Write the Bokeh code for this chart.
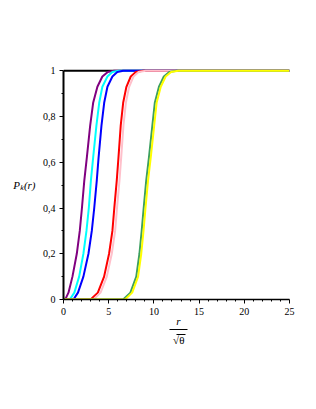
from bokeh.plotting import figure
from bokeh.models import FixedTicker, LinearAxis, Range1d
from bokeh.embed import file_html
from bokeh.resources import INLINE

# ---- data ----
x_black = [0, 25]
y_black = [1, 1]

levels = [0, 0, 0.03, 0.10, 0.20, 0.30, 0.40, 0.52, 0.62, 0.76, 0.86, 0.93, 0.975, 0.995, 1, 1]

x_purple = [0, 0.25, 0.55, 0.99, 1.47, 1.80, 2.04, 2.30, 2.58, 2.95, 3.28, 3.75, 4.3, 4.9, 5.6, 25]
y_purple = [0, 0.005, 0.03, 0.10, 0.20, 0.30, 0.40, 0.52, 0.62, 0.76, 0.86, 0.93, 0.975, 0.995, 1, 1]

x_cyan = [0, 0.7, 1.2, 1.73, 2.2, 2.54, 2.8, 3.03, 3.28, 3.64, 3.95, 4.3, 4.86, 5.4, 6.1, 25]
x_blue = [0, 1.1, 1.6, 2.2, 2.76, 3.13, 3.4, 3.68, 3.88, 4.2, 4.5, 4.86, 5.41, 5.95, 6.6, 25]
x_red = [0, 3.0, 3.8, 4.49, 5.04, 5.41, 5.62, 5.89, 6.08, 6.33, 6.6, 6.96, 7.44, 8.0, 8.8, 25]
x_pink = [0, 3.3, 4.1, 4.79, 5.34, 5.71, 5.92, 6.19, 6.38, 6.63, 6.9, 7.26, 7.74, 8.3, 9.1, 25]
x_green = [0, 6.6, 7.4, 8.05, 8.4, 8.65, 8.87, 9.15, 9.45, 9.83, 10.1, 10.56, 11.1, 11.7, 12.5, 25]
x_yellow = [0, 6.8, 7.6, 8.25, 8.6, 8.85, 9.07, 9.35, 9.65, 10.03, 10.3, 10.76, 11.3, 11.9, 12.7, 25]

x_ticks = [0, 5, 10, 15, 20, 25]
x_minor = [1, 2, 3, 4, 6, 7, 8, 9, 11, 12, 13, 14, 16, 17, 18, 19, 21, 22, 23, 24]
y_ticks = [0, 0.2, 0.4, 0.6, 0.8, 1]
y_tick_labels = ["0", "0,2", "0,4", "0,6", "0,8", "1"]
y_minor = [0.1, 0.3, 0.5, 0.7, 0.9]

y_title = "P\u2096(r)"
x_title_top = "r"
x_title_bottom = "\u221a\u03b8"

font = "Liberation Serif"

p = figure(width=308, height=401, output_backend="svg", toolbar_location=None,
           x_range=Range1d(0, 25), y_range=Range1d(0, 1.01),
           min_border_left=63, min_border_right=19, min_border_top=68, min_border_bottom=102)
p.outline_line_color = None
p.xgrid.visible = False
p.ygrid.visible = False
p.background_fill_color = "white"
p.border_fill_color = "white"

p.line(x_black, y_black, line_color="black", line_width=2)
series = [(x_purple, y_purple, "#800080"), (x_cyan, levels, "#00FFFF"), (x_blue, levels, "#0000FF"),
          (x_red, levels, "#FF0000"), (x_pink, levels, "#FFC0CB"), (x_green, levels, "#3CA060"),
          (x_yellow, levels, "#FFFF00")]
for xs, ys, col in series:
    p.line(xs, ys, line_color=col, line_width=2, line_join="round")

for ax in (p.xaxis[0], p.yaxis[0]):
    ax.major_tick_in = 0
    ax.major_tick_out = 4
    ax.minor_tick_in = 0
    ax.minor_tick_out = 2
    ax.axis_line_color = "black"
    ax.major_tick_line_color = "black"
    ax.minor_tick_line_color = "black"
    ax.major_label_text_font = font
    ax.major_label_text_font_size = "10px"
    ax.major_label_text_color = "black"
    ax.major_label_standoff = 4

p.xaxis[0].ticker = FixedTicker(ticks=x_ticks, minor_ticks=x_minor)
p.yaxis[0].ticker = FixedTicker(ticks=y_ticks, minor_ticks=y_minor)
p.yaxis[0].major_label_overrides = dict(zip(y_ticks, y_tick_labels))
p.xaxis[0].bounds = (0, 25)
p.yaxis[0].bounds = (0, 1)
p.yaxis[0].axis_line_width = 2
p.xaxis[0].axis_line_width = 1.5


def text_axis(ticks, labels, size, style="italic", standoff=2, line_bounds=None, tick_out=0):
    ax = LinearAxis(ticker=FixedTicker(ticks=ticks, minor_ticks=[]))
    ax.major_label_overrides = dict(zip(ticks, labels))
    ax.major_tick_line_color = None
    ax.minor_tick_line_color = None
    ax.major_tick_in = 0
    ax.major_tick_out = tick_out
    ax.major_label_standoff = standoff
    ax.major_label_text_font = font
    ax.major_label_text_font_style = style
    ax.major_label_text_font_size = size
    ax.major_label_text_color = "black"
    if line_bounds is None:
        ax.axis_line_color = None
    else:
        ax.bounds = line_bounds
        ax.axis_line_color = "black"
        ax.axis_line_width = 1
    return ax


# y-axis title, written horizontally
p.add_layout(text_axis([0.5], [y_title], "11px", standoff=4), "left")

# x-axis title: r over sqrt(theta)
p.add_layout(text_axis([12.7], [x_title_top], "11px", standoff=-3), "below")
p.add_layout(text_axis([12.7], [" "], "1px", standoff=0, line_bounds=(11.75, 13.7), tick_out=1), "below")
p.add_layout(text_axis([12.75], [x_title_bottom], "11px", style="normal", standoff=-1,
                       line_bounds=(12.55, 13.5)), "below")

open("out.html", "w").write(file_html(p, INLINE))
